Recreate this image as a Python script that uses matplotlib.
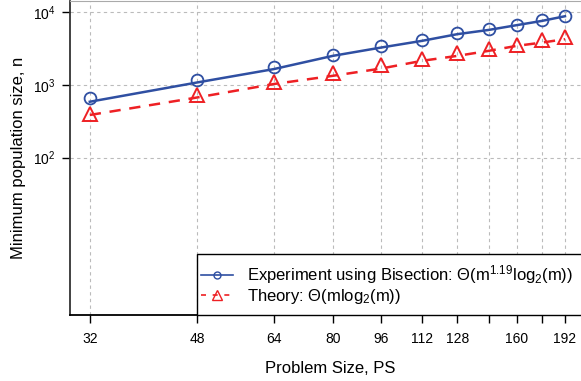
import matplotlib
matplotlib.use("Agg")
import matplotlib.pyplot as plt
from matplotlib.lines import Line2D
from matplotlib.patches import Rectangle
from matplotlib.ticker import FixedLocator, NullLocator, FixedFormatter

# Data
ps = [32, 48, 64, 80, 96, 112, 128, 144, 160, 176, 192]
xtick_labels = ["32", "48", "64", "80", "96", "112", "128", "", "160", "", "192"]

exp_n = [649, 1170, 1746, 2576, 3420, 4130, 5100, 5850, 6700, 7700, 8730]
exp_fit = [585, 1077, 1640, 2495, 3245, 4010, 4955, 5660, 6580, 7530, 8730]

theory_n = [397, 722, 1089, 1430, 1862, 2250, 2690, 3140, 3530, 4090, 4550]
theory_fit = [385, 670, 1023, 1328, 1671, 2133, 2495, 2923, 3420, 3795, 4225]

yticks = [1e2, 1e3, 1e4]

plt.rcParams["font.family"] = ["Liberation Sans", "DejaVu Sans"]
plt.rcParams["mathtext.fontset"] = "custom"
plt.rcParams["mathtext.rm"] = "Liberation Sans"
plt.rcParams["mathtext.it"] = "Liberation Sans"

blue = "#2F4FA2"
red = "#EE2024"

fig = plt.figure(figsize=(5.81, 3.81), dpi=100)
# axes run a little past the right edge of the picture, as in the original
ax = fig.add_axes([70 / 581, 66 / 381, 520 / 581, 314 / 381])

ax.plot(ps, exp_fit, color=blue, lw=1.8, zorder=3)
ax.plot(ps, exp_n, ls="none", marker="o", ms=8.5, mfc="none", mec=blue, mew=1.3, zorder=4)
ax.plot(ps, theory_fit, color=red, lw=1.8, ls=(0, (4.5, 3.5)), zorder=3)
ax.plot(ps, theory_n, ls="none", marker="^", ms=9.5, mfc="none", mec=red, mew=1.4, zorder=4)

ax.set_xscale("log")
ax.set_yscale("log")
ax.set_xlim(29.7, 211)
ax.set_ylim(10 ** -0.16, 10 ** 4.15)

ax.xaxis.set_major_locator(FixedLocator(ps))
ax.xaxis.set_major_formatter(FixedFormatter(xtick_labels))
ax.xaxis.set_minor_locator(NullLocator())
ax.yaxis.set_major_locator(FixedLocator(yticks))
ax.yaxis.set_minor_locator(NullLocator())

ax.tick_params(axis="x", direction="out", length=6, width=1, labelsize=10, pad=6)
ax.tick_params(axis="y", direction="out", length=5.5, width=1, labelsize=10, pad=5)
ax.grid(True, color="#BBBBBB", ls=(0, (3, 3)), lw=0.8)
ax.set_axisbelow(True)

for side in ["top", "right"]:
    ax.spines[side].set_color("#AAAAAA")
ax.spines["left"].set_color("#333333")
ax.spines["left"].set_linewidth(1.3)
ax.spines["bottom"].set_linewidth(1.3)

ax.set_xlabel("Problem Size, PS", fontsize=12, labelpad=11)
ax.set_ylabel("Minimum population size, n", fontsize=12, labelpad=5)

handles = [
    Line2D([], [], color=blue, lw=1.2, marker="o", ms=5, mfc="none", mec=blue),
    Line2D([], [], color=red, lw=1.2, ls=(0, (3, 4)), marker="^", ms=6.5, mfc="none", mec=red),
]
labels = [
    r"Experiment using Bisection: $\Theta$(m$^{1.19}$log$_2$(m))",
    r"Theory: $\Theta$(mlog$_2$(m))",
]
leg_x = (197 - 70) / 520
leg = ax.legend(handles, labels, loc="lower left", bbox_to_anchor=(leg_x, 0.017),
                fontsize=12, frameon=False, borderaxespad=0, handlelength=1.9,
                handletextpad=0.85, labelspacing=0.02, borderpad=0.24)
leg.set_zorder(6)

# legend box: white, black edge, reaching past the right edge
box = Rectangle((leg_x, 0), 1.2, (315 - 254) / 314, transform=ax.transAxes,
                facecolor="white", edgecolor="black", lw=1.0, zorder=5, clip_on=False)
ax.add_patch(box)

fig.savefig("out.png", dpi=100)
